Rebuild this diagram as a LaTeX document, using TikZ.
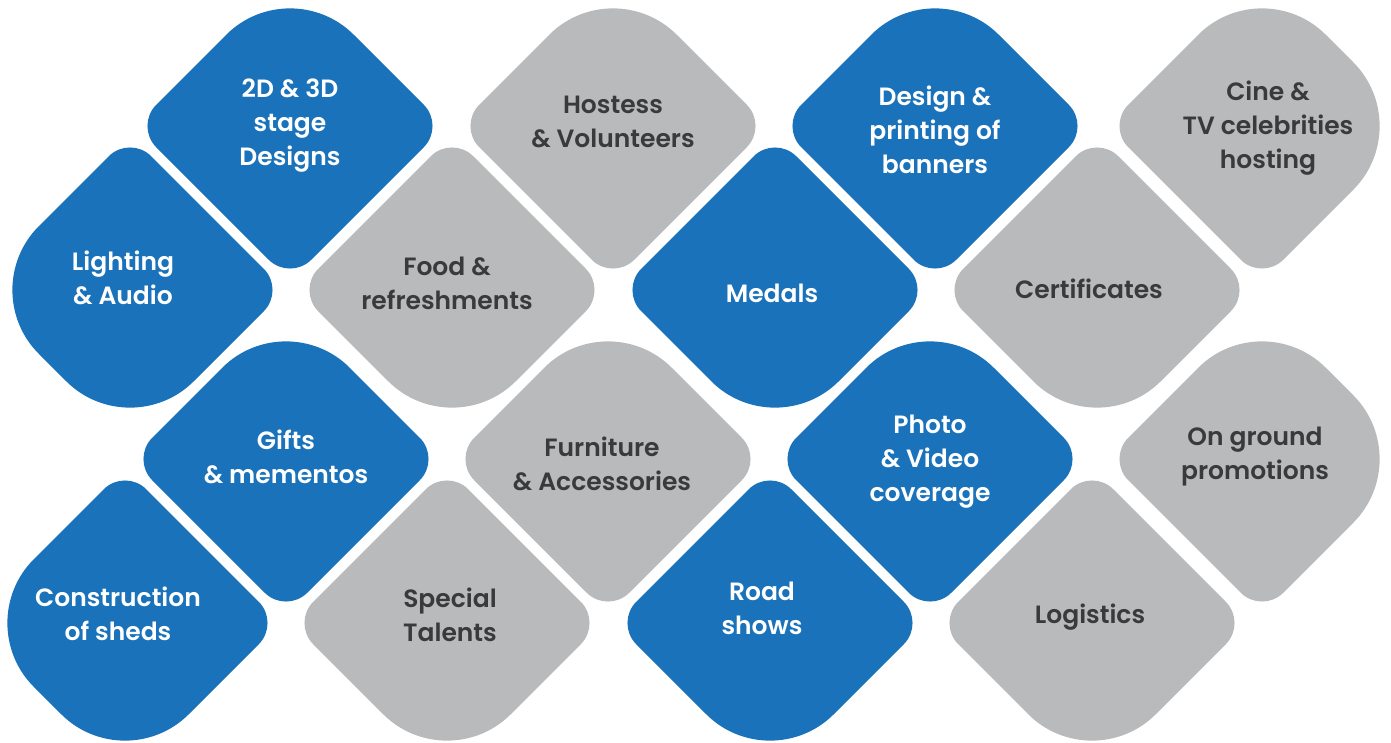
\documentclass[tikz,border=0pt]{standalone}
\usepackage{fontspec}
\setmainfont{Poppins}[BoldFont={Poppins SemiBold}]
\usetikzlibrary{calc}
\definecolor{petalblue}{RGB}{26,114,186}
\definecolor{petalgrey}{RGB}{184,186,188}
\definecolor{petalink}{RGB}{58,58,58}
\tikzset{bluepetal/.style={fill=petalblue}}
\tikzset{greypetal/.style={fill=petalgrey}}
\tikzset{petallabel/.style={font=\bfseries\fontsize{25}{34}\selectfont, align=center, inner sep=0pt}}
\tikzset{bluelabel/.style={petallabel, text=white}}
\tikzset{greylabel/.style={petallabel, text=petalink}}

% rounded diamond: name, x, y, colour, rounding of top, right, bottom, left corner
\newcommand{\petal}[8]{%
  \coordinate (#1) at (#2,#3);
  \coordinate (#1-t) at ($(#1)+(0,-155)$);
  \coordinate (#1-r) at ($(#1)+(155,0)$);
  \coordinate (#1-b) at ($(#1)+(0,155)$);
  \coordinate (#1-l) at ($(#1)+(-155,0)$);
  \fill[#4petal] ($(#1-t)!#5pt!(#1-l)$)
    .. controls ($(#1-t)!{0.45*#5pt}!(#1-l)$) and ($(#1-t)!{0.45*#5pt}!(#1-r)$) .. ($(#1-t)!#5pt!(#1-r)$)
    -- ($(#1-r)!#6pt!(#1-t)$)
    .. controls ($(#1-r)!{0.45*#6pt}!(#1-t)$) and ($(#1-r)!{0.45*#6pt}!(#1-b)$) .. ($(#1-r)!#6pt!(#1-b)$)
    -- ($(#1-b)!#7pt!(#1-r)$)
    .. controls ($(#1-b)!{0.45*#7pt}!(#1-r)$) and ($(#1-b)!{0.45*#7pt}!(#1-l)$) .. ($(#1-b)!#7pt!(#1-l)$)
    -- ($(#1-l)!#8pt!(#1-b)$)
    .. controls ($(#1-l)!{0.45*#8pt}!(#1-b)$) and ($(#1-l)!{0.45*#8pt}!(#1-t)$) .. ($(#1-l)!#8pt!(#1-t)$)
    -- cycle;
}

\begin{document}
\begin{tikzpicture}[x=1pt,y=-1pt]
\useasboundingbox (0,0) rectangle (1391,742);

% first row
\petal{stage}{290}{126}{blue}{90}{30}{30}{30}
\petal{hostess}{613}{126}{grey}{90}{30}{30}{30}
\petal{banners}{935}{126}{blue}{90}{30}{30}{30}
\petal{cine}{1262}{126}{grey}{90}{90}{30}{30}

% second row
\petal{lighting}{130}{290}{blue}{30}{30}{90}{90}
\petal{food}{452}{290}{grey}{30}{30}{90}{30}
\petal{medals}{775}{290}{blue}{30}{30}{90}{30}
\petal{certificates}{1097}{290}{grey}{30}{30}{90}{30}

% third row
\petal{gifts}{286}{459}{blue}{90}{30}{30}{30}
\petal{furniture}{608}{459}{grey}{90}{30}{30}{30}
\petal{photo}{930}{459}{blue}{90}{30}{30}{30}
\petal{ground}{1262}{459}{grey}{90}{90}{30}{30}

% fourth row
\petal{sheds}{125}{623}{blue}{30}{30}{90}{90}
\petal{talents}{447}{623}{grey}{30}{30}{90}{30}
\petal{roadshows}{770}{623}{blue}{30}{30}{90}{30}
\petal{logistics}{1092}{623}{grey}{30}{30}{90}{30}

\node[bluelabel] (stage-t) at (290,126) {2D \& 3D\\stage\\Designs};
\node[greylabel] (hostess-t) at (613,122) {Hostess\\\& Volunteers};
\node[bluelabel] (banners-t) at (935,130) {Design \&\\printing of\\banners};
\node[greylabel] (cine-t) at (1268,128) {Cine \&\\TV celebrities\\hosting};

\node[bluelabel] (lighting-t) at (123,278) {Lighting\\\& Audio};
\node[greylabel] (food-t) at (447,283) {Food \&\\refreshments};
\node[bluelabel] (medals-t) at (772,293) {Medals};
\node[greylabel] (certificates-t) at (1089,289) {Certificates};

\node[bluelabel] (gifts-t) at (286,457) {Gifts\\\& mementos};
\node[greylabel] (furniture-t) at (602,464) {Furniture\\\& Accessories};
\node[bluelabel] (photo-t) at (930,462) {Photo\\\& Video\\coverage};
\node[greylabel] (ground-t) at (1255,457) {On ground\\promotions};

\node[bluelabel] (sheds-t) at (118,614) {Construction\\of sheds};
\node[greylabel] (talents-t) at (450,615) {Special\\Talents};
\node[bluelabel] (roadshows-t) at (762,608) {Road\\shows};
\node[greylabel] (logistics-t) at (1090,617) {Logistics};

\end{tikzpicture}
\end{document}
